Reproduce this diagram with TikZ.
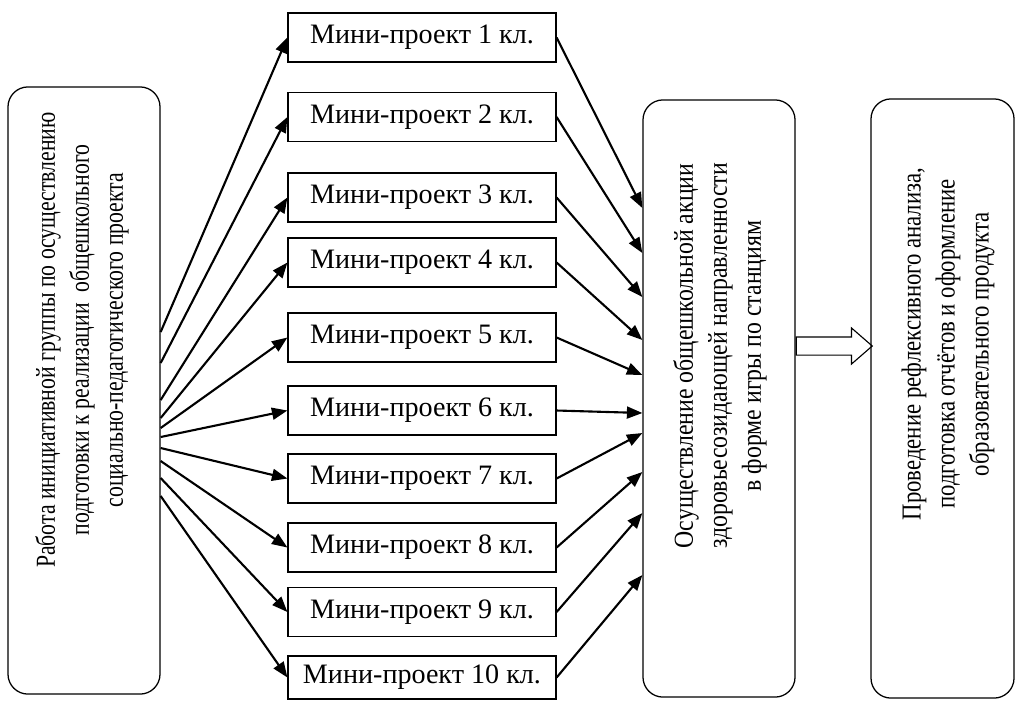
\documentclass[tikz,border=0pt]{standalone}
\usepackage{fontspec}
\setmainfont{Liberation Serif}[Ligatures=TeX]
\usetikzlibrary{shapes.arrows, arrows.meta}
\tikzstyle{stage} = [rectangle, rounded corners=0.5cm, draw=black, line width=0.9pt]
\tikzstyle{vtext} = [rotate=90, xscale=0.83, align=center, font=\rmfamily\fontsize{19.5}{24.2}\selectfont]
\tikzstyle{mini} = [rectangle, minimum width=6.7cm, minimum height=1.225cm, text centered, draw=black, line width=0.8pt, font=\rmfamily\fontsize{20}{22}\selectfont]
\tikzstyle{arrow} = [line width=1.5pt, -{Triangle[length=11pt,width=8.5pt]}]
\tikzstyle{hollow} = [single arrow, draw=black, line width=0.8pt, inner sep=0.2125cm, minimum height=1.9cm, minimum width=0.875cm, single arrow head extend=0.225cm, single arrow tip angle=82]

\begin{document}
\begin{tikzpicture}[x=0.025cm,y=-0.025cm]
\useasboundingbox (0,0) rectangle (1016,700);
%%%%% STAGES
\node (init) [stage, minimum width=3.8cm, minimum height=15.175cm] at (84,390.5) {};
\node (init-text) [vtext, xscale=0.955] at (82,340) {Работа инициативной группы по осуществлению\\подготовки к реализации\ \ общешкольного\\социально-педагогического проекта};
\node (action) [stage, minimum width=3.8cm, minimum height=14.925cm] at (719,398.5) {};
\node (action-text) [vtext, xscale=1.045] at (720,356) {Осуществление общешкольной акции\\здоровьесозидающей направленности\\в форме игры по станциям};
\node (reflex) [stage, minimum width=3.575cm, minimum height=14.975cm] at (942.5,398.5) {};
\node (reflex-text) [vtext] at (948,344) {Проведение рефлексивного анализа,\\подготовка отчётов и оформление\\образовательного продукта};

%%%%% MINI PROJECTS
\node (mp1) [mini] at (422,37.5) {Мини-проект 1 кл.};
\node (mp2) [mini] at (422,117) {Мини-проект 2 кл.};
\node (mp3) [mini] at (422,197.5) {Мини-проект 3 кл.};
\node (mp4) [mini] at (422,262.5) {Мини-проект 4 кл.};
\node (mp5) [mini] at (422,337.5) {Мини-проект 5 кл.};
\node (mp6) [mini] at (422,410.5) {Мини-проект 6 кл.};
\node (mp7) [mini] at (422,478.5) {Мини-проект 7 кл.};
\node (mp8) [mini] at (422,547.5) {Мини-проект 8 кл.};
\node (mp9) [mini] at (422,612) {Мини-проект 9 кл.};
\node (mp10) [mini, minimum height=1.075cm] at (422,677.5) {Мини-проект 10 кл.};

%%%%% ARROWS
\draw [arrow] (init.east |- 0,332) -- (mp1.west);
\draw [arrow] (init.east |- 0,363) -- (mp2.west);
\draw [arrow] (init.east |- 0,400) -- (mp3.west);
\draw [arrow] (init.east |- 0,418) -- (mp4.west);
\draw [arrow] (init.east |- 0,428) -- (mp5.west);
\draw [arrow] (init.east |- 0,437) -- (mp6.west);
\draw [arrow] (init.east |- 0,448) -- (mp7.west);
\draw [arrow] (init.east |- 0,461) -- (mp8.west);
\draw [arrow] (init.east |- 0,478) -- (mp9.west);
\draw [arrow] (init.east |- 0,496) -- (mp10.west);

\draw [arrow] (mp1.east) -- (action.west |- 0,208);
\draw [arrow] (mp2.east) -- (action.west |- 0,253);
\draw [arrow] (mp3.east) -- (action.west |- 0,297);
\draw [arrow] (mp4.east) -- (action.west |- 0,340);
\draw [arrow] (mp5.east) -- (action.west |- 0,375);
\draw [arrow] (mp6.east) -- (action.west |- 0,413);
\draw [arrow] (mp7.east) -- (action.west |- 0,433);
\draw [arrow] (mp8.east) -- (action.west |- 0,472);
\draw [arrow] (mp9.east) -- (action.west |- 0,513);
\draw [arrow] (mp10.east) -- (action.west |- 0,575);

% hollow arrow to the last stage
\node (pass) [hollow, anchor=tail] at (action.east |- 0,346) {};
\end{tikzpicture}
\end{document}
